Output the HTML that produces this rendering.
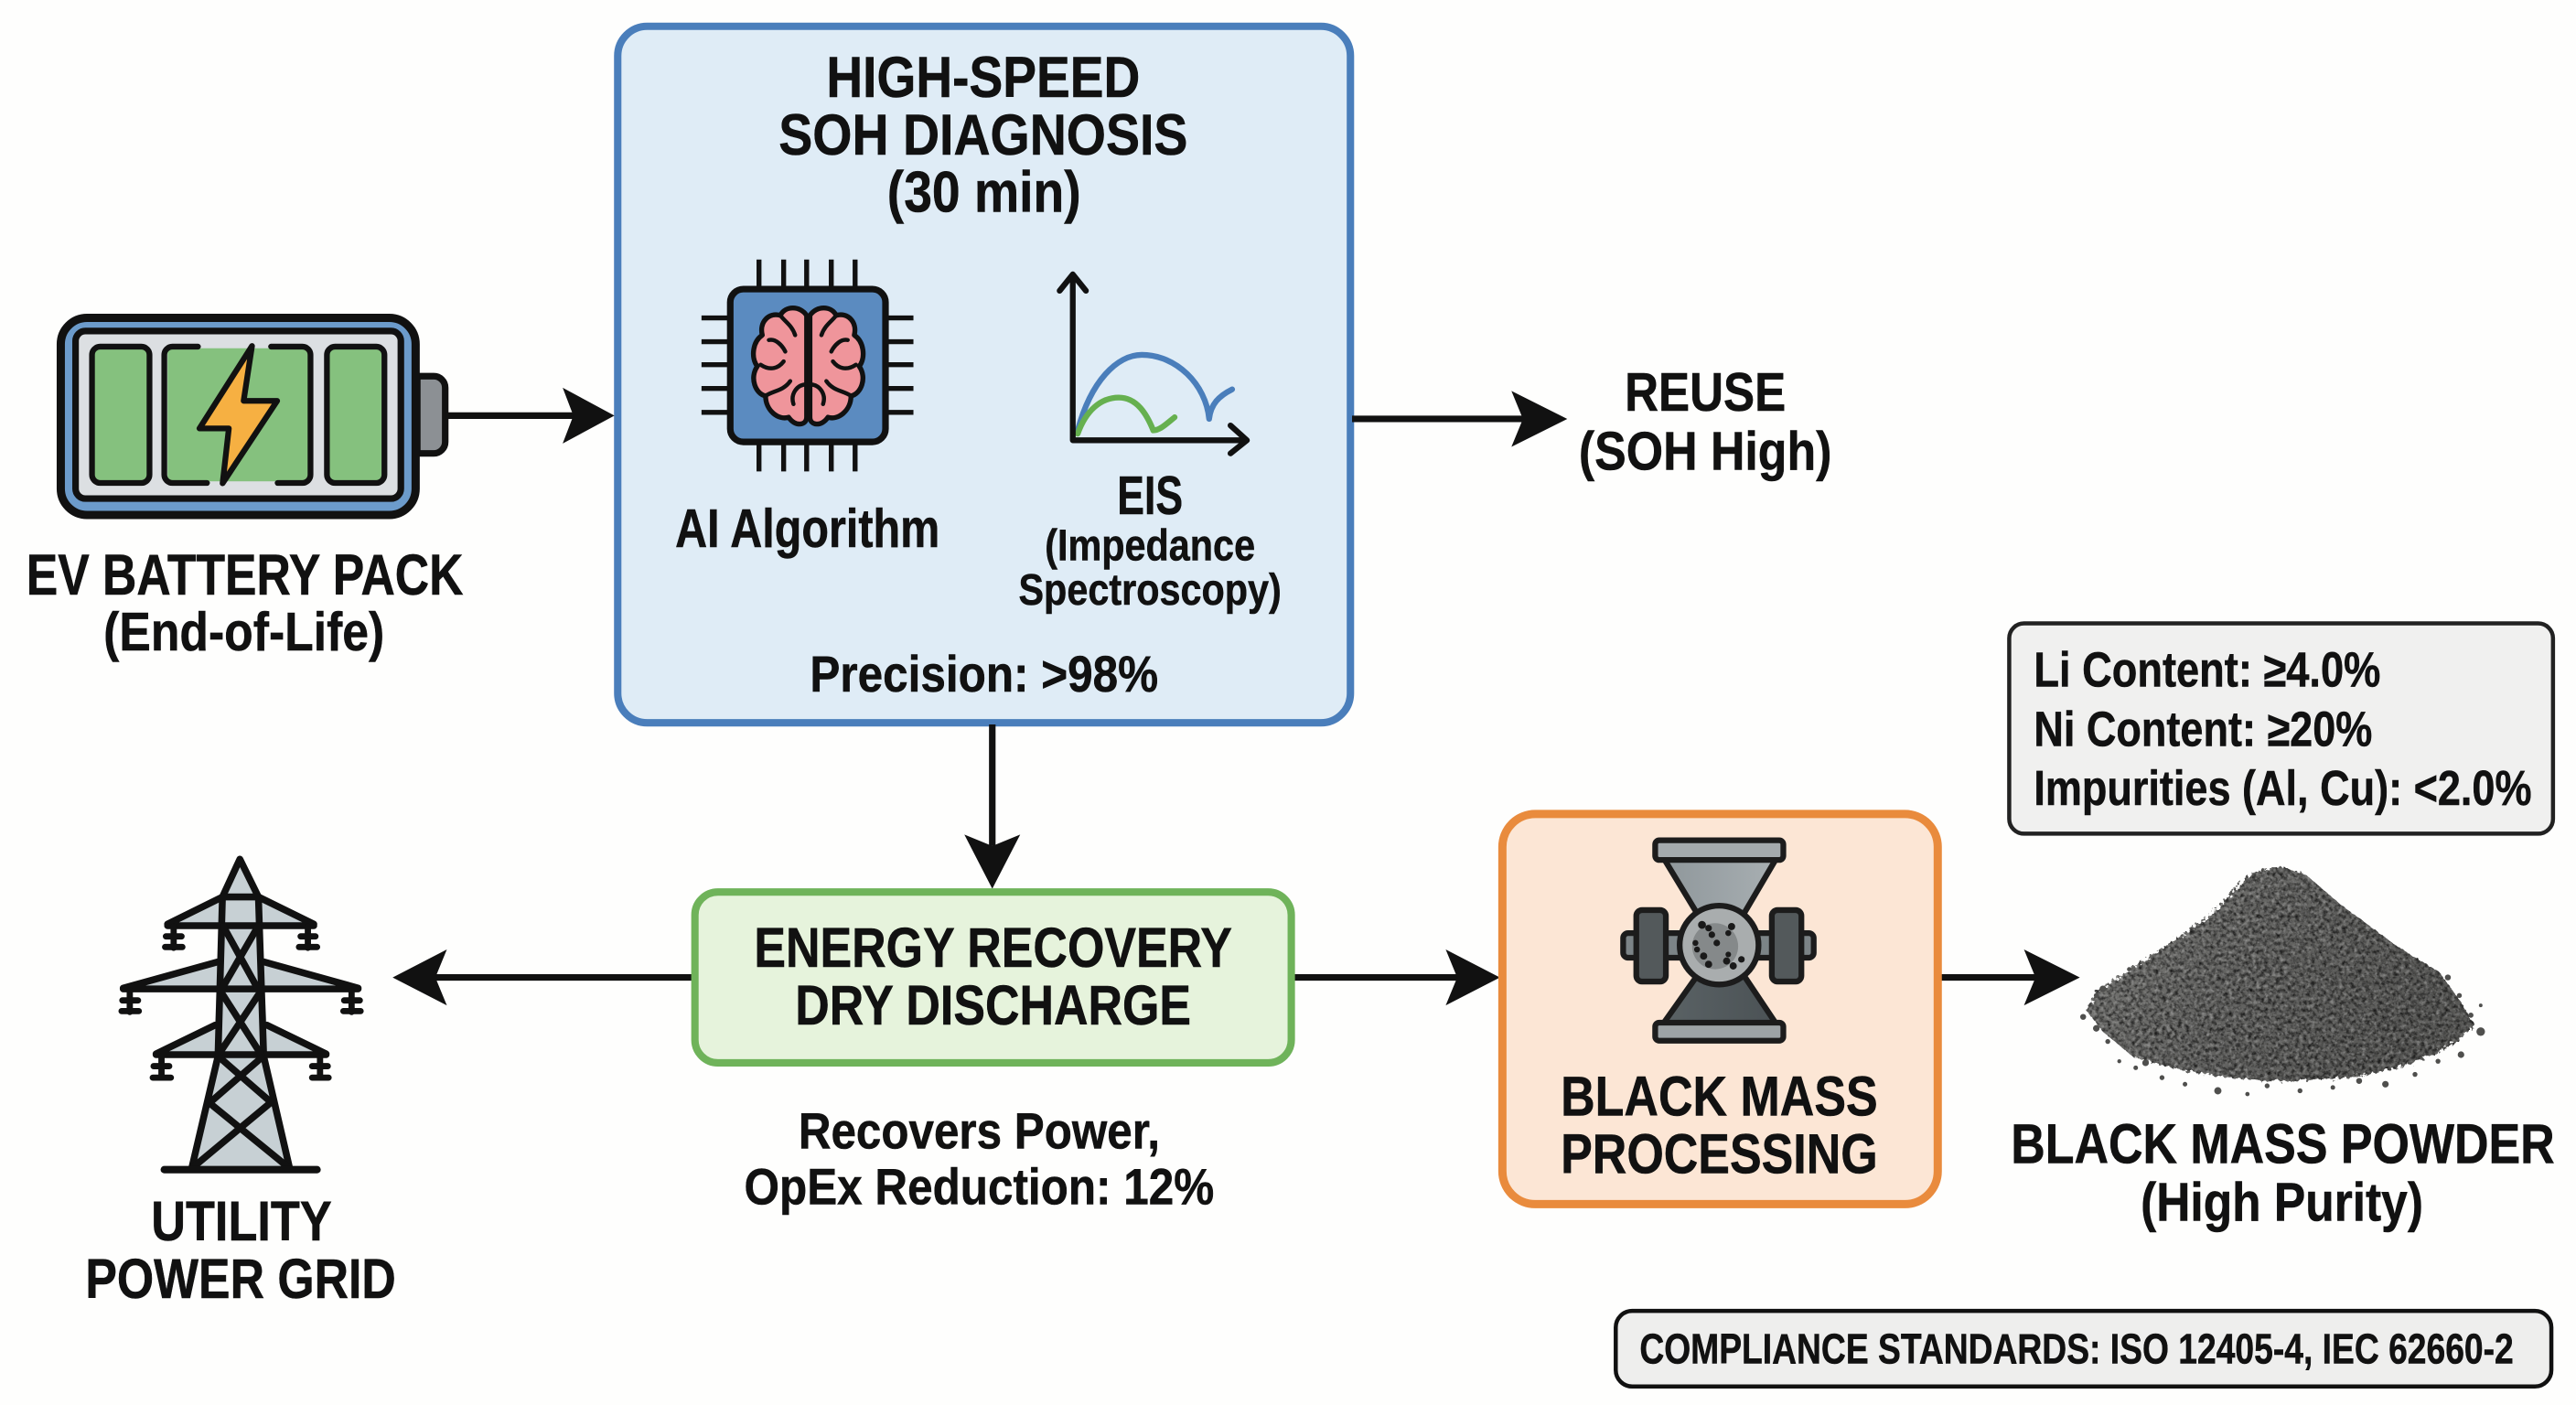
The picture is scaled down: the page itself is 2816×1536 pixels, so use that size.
<!DOCTYPE html>
<html lang="en">
<head>
<meta charset="utf-8">
<title>EV Battery Recycling Flow</title>
<style>
html,body{margin:0;padding:0;background:#fefefd;width:2816px;height:1536px;overflow:hidden}
svg{display:block}
text{font-family:"Liberation Sans",Arial,sans-serif;font-weight:700;fill:#111;stroke:#111;stroke-width:.3}
</style>
</head>
<body>
<svg xmlns="http://www.w3.org/2000/svg" width="2816" height="1536" viewBox="0 0 1568 855.27">
<defs>
<linearGradient id="pileG" x1="0" y1="0" x2="1" y2="0.4">
<stop offset="0" stop-color="#7c7c79"/><stop offset=".5" stop-color="#646462"/><stop offset="1" stop-color="#585856"/>
</linearGradient>
<filter id="grain" x="-5%" y="-5%" width="110%" height="110%" color-interpolation-filters="sRGB">
<feTurbulence type="fractalNoise" baseFrequency="0.42" numOctaves="3" seed="7" result="n"/>
<feDisplacementMap in="SourceGraphic" in2="n" scale="5" result="d"/>
<feColorMatrix in="n" type="matrix" values="0 0 0 0 0  0 0 0 0 0  0 0 0 0 0  1.6 0 0 0 -0.62" result="dark"/>
<feComposite in="dark" in2="d" operator="in" result="dk"/>
<feColorMatrix in="n" type="matrix" values="0 0 0 0 1  0 0 0 0 1  0 0 0 0 1  0 0.7 0 0 -0.33" result="light"/>
<feComposite in="light" in2="d" operator="in" result="lt"/>
<feMerge><feMergeNode in="d"/><feMergeNode in="dk"/><feMergeNode in="lt"/></feMerge>
</filter>
<linearGradient id="gUp" x1="0" y1="0" x2="1" y2="0"><stop offset="0" stop-color="#8f979b"/><stop offset="1" stop-color="#a8afb2"/></linearGradient>
<linearGradient id="gDn" x1="0" y1="0" x2="1" y2="0"><stop offset="0" stop-color="#5a6265"/><stop offset="1" stop-color="#4b5255"/></linearGradient>
</defs>

<rect width="1568" height="856" fill="#fefefd"/>

<!-- Battery -->
<g stroke="#111" stroke-linejoin="round">
<path d="M254 229h10a7 7 0 0 1 7 7v33a7 7 0 0 1-7 7h-10z" fill="#8c9094" stroke-width="4"/>
<rect x="37" y="193.500" width="216" height="120" rx="16" fill="#6c9bcb" stroke-width="5"/>
<rect x="46" y="201.500" width="198" height="102" rx="6" fill="#dcdfe2" stroke-width="4"/>
<rect x="56" y="211" width="35" height="83" rx="5" fill="#85c17e" stroke-width="3.500"/>
<rect x="199" y="211" width="35" height="83" rx="5" fill="#85c17e" stroke-width="3.500"/>
<rect x="102" y="212" width="86" height="81" fill="#85c17e" stroke="none"/>
<g fill="none" stroke-width="3.500" stroke-linecap="round">
<path d="M120.500 211H105a5 5 0 0 0-5 5v73a5 5 0 0 0 5 5h21"/>
<path d="M165 211h19a5 5 0 0 1 5 5v73a5 5 0 0 1-5 5h-15"/>
</g>
<polygon points="153.400,210.600 121.400,260.800 139.300,260.800 135.500,294.200 168.700,244 148.300,244" fill="#f6b042" stroke-width="3.500"/>
</g>
<text x="16" y="362" font-size="35" textLength="266" lengthAdjust="spacingAndGlyphs">EV BATTERY PACK</text>
<text x="63" y="396" font-size="33" textLength="171" lengthAdjust="spacingAndGlyphs">(End-of-Life)</text>

<!-- Blue box -->
<rect x="376" y="16" width="446" height="424" rx="18" fill="#dfecf6" stroke="#4a7ebb" stroke-width="4.500"/>
<text x="503" y="59" font-size="35" textLength="191" lengthAdjust="spacingAndGlyphs">HIGH-SPEED</text>
<text x="474" y="94" font-size="35" textLength="249" lengthAdjust="spacingAndGlyphs">SOH DIAGNOSIS</text>
<text x="540" y="129" font-size="35" textLength="118" lengthAdjust="spacingAndGlyphs">(30 min)</text>

<!-- Chip -->
<g stroke="#111" stroke-width="3" fill="none" stroke-linecap="butt">
<path d="M462 158v18M477 158v18M491 158v18M506 158v18M520.500 158v18M462 269v18M477 269v18M491 269v18M506 269v18M520.500 269v18"/>
<path d="M427 193.500h17M427 208h17M427 222h17M427 236.500h17M427 251h17M539 193.500h17M539 208h17M539 222h17M539 236.500h17M539 251h17"/>
</g>
<rect x="444.500" y="176" width="94.500" height="93" rx="8" fill="#5b8bc0" stroke="#111" stroke-width="4"/>
<g fill="#ef959b" stroke="#111" stroke-width="3" stroke-linejoin="round" stroke-linecap="round">
<path d="M491 192C487 186 478 186 475 192C468 190 462 196 464 204C458 208 457 218 461 223C456 230 460 240 466 241C466 250 474 256 480 254C484 260 491 259 491 254Z"/>
<path d="M475 192C478 196 482 198 484 204M463 222C469 226 474 224 477 220M466 241C470 238 477 238 481 232M491 234C485 234 481 240 483 246M468 207C472 206 476 210 478 214" fill="none" stroke-width="2.500"/>
</g>
<g fill="#ef959b" stroke="#111" stroke-width="3" stroke-linejoin="round" stroke-linecap="round" transform="translate(984,0) scale(-1,1)">
<path d="M491 192C487 186 478 186 475 192C468 190 462 196 464 204C458 208 457 218 461 223C456 230 460 240 466 241C466 250 474 256 480 254C484 260 491 259 491 254Z"/>
<path d="M475 192C478 196 482 198 484 204M463 222C469 226 474 224 477 220M466 241C470 238 477 238 481 232M491 234C485 234 481 240 483 246M468 207C472 206 476 210 478 214" fill="none" stroke-width="2.500"/>
</g>
<text x="411" y="333" font-size="33" textLength="161" lengthAdjust="spacingAndGlyphs">AI Algorithm</text>

<!-- EIS chart -->
<g fill="none" stroke-linecap="round" stroke-linejoin="round">
<path d="M656 262C664 232 680 216 695 216C716 216 734 234 736 255C737 246 742 241 750 237" stroke="#4a7ebb" stroke-width="3.500"/>
<path d="M656 264C661 250 670 242 681 242C692 242 698 252 702 262C706 262 710 258 715 254" stroke="#66b04f" stroke-width="3.500"/>
<path d="M653 268V168M645 177L653 167L661 177M653 268H758M749 259L759 268L749 276" stroke="#111" stroke-width="3.500"/>
</g>
<text x="680" y="313" font-size="33" textLength="40" lengthAdjust="spacingAndGlyphs">EIS</text>
<text x="636" y="341" font-size="27" textLength="128" lengthAdjust="spacingAndGlyphs">(Impedance</text>
<text x="620" y="368" font-size="27" textLength="160" lengthAdjust="spacingAndGlyphs">Spectroscopy)</text>
<text x="493" y="421" font-size="31" textLength="212" lengthAdjust="spacingAndGlyphs">Precision: &gt;98%</text>

<!-- Arrows -->
<g stroke="#111" stroke-width="4" fill="none">
<path d="M271 253H350M823 255H930M604 441V515M423 595H262M787 595H888M1181 595H1240"/>
</g>
<g fill="#111">
<polygon points="374,253 342.500,236 349,253 342.500,270"/>
<polygon points="954,255 920,238 927,255 920,272"/>
<polygon points="604,541 587,508 604,515 621,508"/>
<polygon points="239,595 272,578 265,595 272,612"/>
<polygon points="913,595 880,578 887,595 880,612"/>
<polygon points="1266,595 1232,578 1239,595 1232,612"/>
</g>

<text x="989" y="250" font-size="33" textLength="98" lengthAdjust="spacingAndGlyphs">REUSE</text>
<text x="961" y="286" font-size="33" textLength="154" lengthAdjust="spacingAndGlyphs">(SOH High)</text>

<!-- Green box -->
<rect x="423" y="543" width="363" height="104" rx="14" fill="#e6f3dc" stroke="#6fb35a" stroke-width="4.500"/>
<text x="459" y="588.500" font-size="34" textLength="291" lengthAdjust="spacingAndGlyphs">ENERGY RECOVERY</text>
<text x="484" y="623.500" font-size="34" textLength="241" lengthAdjust="spacingAndGlyphs">DRY DISCHARGE</text>
<text x="486" y="699" font-size="31" textLength="220" lengthAdjust="spacingAndGlyphs">Recovers Power,</text>
<text x="453" y="733" font-size="31" textLength="286" lengthAdjust="spacingAndGlyphs">OpEx Reduction: 12%</text>

<!-- Tower -->
<g stroke-linejoin="round" stroke-linecap="round">
<path d="M146 523L135.400 546L102 562.500L133 563L132.700 585.500L75 601.500L132 602L130.800 624L95 641.500L132.700 642L117 711H176.300L160.500 642L198.500 641.500L162.400 624L160.800 602L218 601.500L160.500 585.500L159.500 563L191 562.500L157.300 546Z" fill="#c7d0d4"/>
<g fill="none" stroke="#111" stroke-width="4.200">
<path d="M146 523L135.400 546L132.700 643L116.500 712M146 523L157.300 546L160.500 643L176.500 712"/>
<path d="M135.400 546H157.300M102 562.500L135.400 546M191 562.500L157.300 546M102 563.500H191"/>
<path d="M75 601.500L132.700 585.500M218 601.500L160.500 585.500M75 602H218"/>
<path d="M95 641.500L131 624M198.500 641.500L162.400 624M95 642H198.500"/>
<path d="M136 564L157 602M157 564L135 602M134 603L159 642M159 603L133 642"/>
<path d="M134 644L165 671M159 644L128 671M127 671L176 711M165 671L117 711"/>
<path d="M100 712H193" stroke-width="4.500"/>
</g>
<g fill="none" stroke="#111" stroke-width="3.800">
<path d="M105.700 564V577M187.400 564V577M79 603V616M214 603V616M98.300 643V656M194.800 643V656"/>
<path d="M101 570H110.500M100.500 576.500H111M183 570H192M182 576.500H193M74.500 609H84M74 615.500H84.500M209.500 609H219M209 615.500H219.500M93.500 649H103M93 656H104M190 649H199.500M190 656H200"/>
</g>
</g>
<text x="92" y="755" font-size="34" textLength="110" lengthAdjust="spacingAndGlyphs">UTILITY</text>
<text x="52" y="790" font-size="34" textLength="189" lengthAdjust="spacingAndGlyphs">POWER GRID</text>

<!-- Orange box -->
<rect x="914.500" y="495.500" width="265" height="237.500" rx="20" fill="#fce6d5" stroke="#e98b3d" stroke-width="5"/>
<!-- Grinder -->
<g stroke="#1c1c1c" stroke-width="3.500" stroke-linejoin="round">
<polygon points="1013,523 1081,523 1061.600,556 1033,556" fill="url(#gUp)"/>
<polygon points="1033,594 1061.600,594 1081,623 1012.500,623" fill="url(#gDn)"/>
<rect x="1007.500" y="511.500" width="78" height="12" rx="2.500" fill="#a4aaad"/>
<rect x="1007.500" y="622.500" width="78" height="11" rx="2.500" fill="#9da3a6"/>
<rect x="988" y="568" width="116" height="15" rx="3" fill="#7c8487"/>
<rect x="996" y="554" width="18" height="43.500" rx="3.500" fill="#53595b"/>
<rect x="1078.500" y="554" width="18" height="43.500" rx="3.500" fill="#53595b"/>
<circle cx="1046.400" cy="575.300" r="24" fill="#a9adae"/>
</g>
<circle cx="1044" cy="576" r="14" fill="#85898a"/>
<g fill="#1a1a1a">
<circle cx="1036" cy="563" r="2.400"/><circle cx="1040" cy="565" r="2"/><circle cx="1042" cy="569" r="2"/>
<circle cx="1054" cy="564" r="2.200"/><circle cx="1052" cy="568" r="1.800"/><circle cx="1045" cy="574" r="2"/>
<circle cx="1032" cy="574" r="1.800"/><circle cx="1033" cy="578" r="1.800"/><circle cx="1037" cy="582" r="2.200"/>
<circle cx="1040" cy="587" r="2.200"/><circle cx="1051" cy="585" r="2.200"/><circle cx="1055" cy="588" r="2.200"/>
<circle cx="1060" cy="584" r="2"/><circle cx="1052" cy="581" r="1.700"/>
</g>
<text x="950" y="679" font-size="34" textLength="193" lengthAdjust="spacingAndGlyphs">BLACK MASS</text>
<text x="950" y="714" font-size="34" textLength="193" lengthAdjust="spacingAndGlyphs">PROCESSING</text>

<!-- Spec box -->
<rect x="1223" y="379.500" width="331" height="128" rx="9" fill="#f0f0ef" stroke="#222" stroke-width="2.500"/>
<text x="1238" y="418" font-size="30" textLength="211" lengthAdjust="spacingAndGlyphs">Li Content: ≥4.0%</text>
<text x="1238" y="454" font-size="30" textLength="206" lengthAdjust="spacingAndGlyphs">Ni Content: ≥20%</text>
<text x="1238" y="490" font-size="30" textLength="303" lengthAdjust="spacingAndGlyphs">Impurities (Al, Cu): &lt;2.0%</text>

<!-- Powder pile -->
<path d="M1387 527L1370 532L1342 560L1315 578L1283 599L1276 604L1270 615L1280 628L1298 643C1320 651 1358 658 1389 658C1420 658 1450 654 1472 646C1486 640 1500 632 1506 624L1498 610L1485 592L1459 576L1424 550L1403 532Z" fill="url(#pileG)" filter="url(#grain)"/>
<g fill="#4f4f4d">
<circle cx="1268" cy="619" r="1.800"/><circle cx="1276" cy="626" r="2"/><circle cx="1283" cy="634" r="1.500"/>
<circle cx="1290" cy="646" r="1.200"/><circle cx="1300" cy="650" r="1.400"/><circle cx="1306" cy="647" r="2"/>
<circle cx="1316" cy="656" r="1.500"/><circle cx="1330" cy="660" r="1.400"/><circle cx="1350" cy="664" r="2.200"/>
<circle cx="1368" cy="666" r="1.300"/><circle cx="1380" cy="661" r="1.500"/><circle cx="1400" cy="664" r="1.500"/>
<circle cx="1420" cy="662" r="1.400"/><circle cx="1436" cy="658" r="1.800"/><circle cx="1452" cy="660" r="2"/>
<circle cx="1470" cy="654" r="1.500"/><circle cx="1484" cy="646" r="1.500"/><circle cx="1498" cy="642" r="2"/>
<circle cx="1510" cy="628" r="2.600"/><circle cx="1504" cy="618" r="1.600"/><circle cx="1510" cy="612" r="1.100"/>
<circle cx="1497" cy="606" r="1.500"/><circle cx="1490" cy="595" r="1.800"/><circle cx="1280" cy="602" r="2"/>
<circle cx="1276" cy="606" r="1.500"/><circle cx="1296" cy="590" r="1.300"/>
</g>
<text x="1224" y="708" font-size="34" textLength="331" lengthAdjust="spacingAndGlyphs">BLACK MASS POWDER</text>
<text x="1303" y="743" font-size="33" textLength="172" lengthAdjust="spacingAndGlyphs">(High Purity)</text>

<!-- Compliance -->
<rect x="983.500" y="798" width="569.500" height="46" rx="10" fill="#eeeeed" stroke="#111" stroke-width="2.500"/>
<text x="998" y="830" font-size="26" textLength="532" lengthAdjust="spacingAndGlyphs">COMPLIANCE STANDARDS: ISO 12405-4, IEC 62660-2</text>
</svg>
</body>
</html>
